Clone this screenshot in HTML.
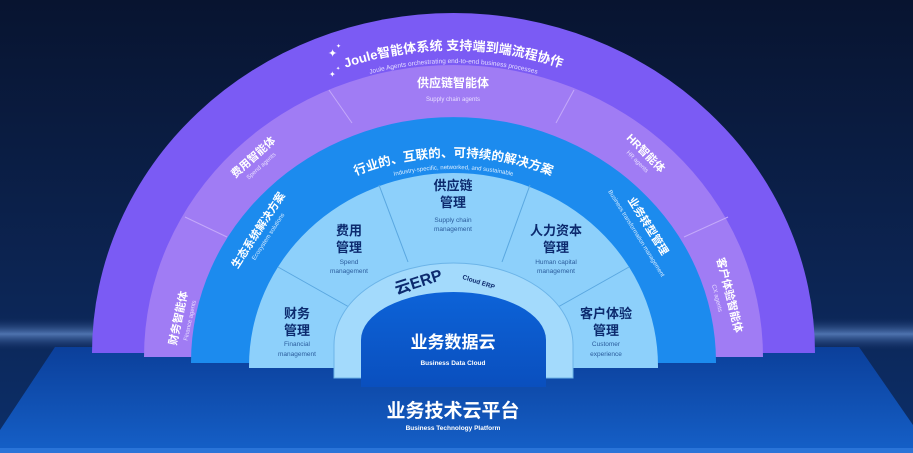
<!DOCTYPE html>
<html><head><meta charset="utf-8">
<style>
html,body{margin:0;padding:0;background:#0a1734;}
svg{display:block;}
text{font-family:"Liberation Sans","Noto Sans CJK SC",sans-serif;}
</style></head>
<body>
<svg width="913" height="453" viewBox="0 0 913 453" xmlns="http://www.w3.org/2000/svg">
<defs>
<linearGradient id="bg" x1="0" y1="0" x2="0" y2="1">
<stop offset="0" stop-color="#081430"/><stop offset="0.6" stop-color="#0c2452"/><stop offset="1" stop-color="#0c2f6a"/>
</linearGradient>
<linearGradient id="streak" x1="0" y1="0" x2="0" y2="1">
<stop offset="0" stop-color="#1c3a72" stop-opacity="0"/><stop offset="0.5" stop-color="#5f86c4" stop-opacity="0.8"/><stop offset="1" stop-color="#1c3a72" stop-opacity="0"/>
</linearGradient>
<linearGradient id="plat" x1="0" y1="0" x2="0" y2="1">
<stop offset="0" stop-color="#0b3f9a"/><stop offset="1" stop-color="#1560c8"/>
</linearGradient>
<linearGradient id="data" x1="0" y1="0" x2="0" y2="1">
<stop offset="0" stop-color="#0d63d8"/><stop offset="1" stop-color="#0a4fbe"/>
</linearGradient>
<path id="pJ" d="M133.5,353 A320 303 0 0 1 773.5,353"/>
<path id="pJs" d="M145.5,353 A308 290 0 0 1 761.5,353"/>
<path id="pI" d="M218.5,362 A235 205 0 0 1 688.5,362"/>
<path id="pIs" d="M228.5,362 A225 193 0 0 1 678.5,362"/>
</defs>
<rect width="913" height="453" fill="url(#bg)"/>
<rect x="0" y="318" width="913" height="32" fill="url(#streak)"/>
<path d="M55,347 L859,347 L913,425 L913,453 L0,453 L0,430 Z" fill="url(#plat)"/>
<rect x="0" y="448" width="913" height="5" fill="#2a74d8"/>
<path d="M92,353 A361.5 340 0 0 1 815,353 Z" fill="#7b5bf4"/>
<path d="M144,357 A309.5 292 0 0 1 763,357 Z" fill="#a07cf4"/>
<g stroke="#c4a9fa" stroke-width="1">
<line x1="185" y1="217" x2="227" y2="237"/>
<line x1="329" y1="90" x2="352" y2="123"/>
<line x1="574" y1="90" x2="556" y2="123"/>
<line x1="728" y1="217" x2="684" y2="237"/>
</g>
<path d="M191,363 L191,362 A262.5 245 0 0 1 716,362 L716,363 Z" fill="#1c8bee"/>
<path d="M249,368 L249,366 A204.5 193 0 0 1 658,366 L658,368 Z" fill="#8dd0fb"/>
<g stroke="#5aa7e0" stroke-width="1">
<line x1="379" y1="185" x2="408" y2="262"/>
<line x1="530" y1="185" x2="502" y2="262"/>
<line x1="278" y1="267" x2="349" y2="307"/>
<line x1="629" y1="267" x2="558" y2="307"/>
</g>
<path d="M334,378 L334,345 A119.5 82 0 0 1 573,345 L573,378 Z" fill="#a3dafc" stroke="#6cb4e8" stroke-width="1"/>
<path d="M361,387 L361,340 A92.5 48 0 0 1 546,340 L546,387 Z" fill="url(#data)"/>

<text font-size="13" font-weight="bold" fill="#fff" text-anchor="middle"><textPath href="#pJ" startOffset="50%">Joule智能体系统 支持端到端流程协作</textPath></text>
<text font-size="6.5" fill="#e4dcff" text-anchor="middle"><textPath href="#pJs" startOffset="50%">Joule Agents orchestrating end-to-end business processes</textPath></text>
<text x="328" y="57" font-size="11" fill="#fff">✦</text>
<text x="336" y="48" font-size="6" fill="#fff">✦</text>
<text x="329" y="77" font-size="8" fill="#fff">✦</text>
<text x="336" y="70" font-size="5" fill="#fff">✦</text>

<g fill="#fff" text-anchor="middle">
<text x="453" y="87" font-size="12" font-weight="bold">供应链智能体</text>
<text x="453" y="101" font-size="6" fill="#e8deff">Supply chain agents</text>
<g transform="translate(253,157) rotate(-42)"><text y="4" font-size="11" font-weight="bold">费用智能体</text><text y="14" font-size="6" fill="#e8deff">Spend agents</text></g>
<g transform="translate(646,153) rotate(45)"><text y="4" font-size="11" font-weight="bold">HR智能体</text><text y="14" font-size="6" fill="#e8deff">HR agents</text></g>
<g transform="translate(178,318) rotate(-78)"><text y="4" font-size="11" font-weight="bold">财务智能体</text><text y="14" font-size="6" fill="#e8deff">Finance agents</text></g>
<g transform="translate(726,296) rotate(76)"><text y="0" font-size="11" font-weight="bold">客户体验智能体</text><text y="11" font-size="6" fill="#e8deff">CX agents</text></g>
</g>

<text font-size="12.5" font-weight="bold" fill="#fff" text-anchor="middle"><textPath href="#pI" startOffset="50%">行业的、互联的、可持续的解决方案</textPath></text>
<text font-size="6" fill="#d8ecff" text-anchor="middle"><textPath href="#pIs" startOffset="50%">Industry-specific, networked, and sustainable</textPath></text>
<g fill="#fff" text-anchor="middle">
<g transform="translate(258,230) rotate(-57)"><text y="4" font-size="11" font-weight="bold">生态系统解决方案</text><text y="14" font-size="6" fill="#d8ecff">Ecosystem solutions</text></g>
<g transform="translate(645,228) rotate(58)"><text y="0" font-size="11" font-weight="bold">业务转型管理</text><text y="12" font-size="6" fill="#d8ecff">Business transformation management</text></g>
</g>

<g text-anchor="middle" fill="#0c2a6e">
<text x="453" y="190" font-size="13" font-weight="bold">供应链</text>
<text x="453" y="207" font-size="13" font-weight="bold">管理</text>
<text x="453" y="222" font-size="6.5" fill="#2b5c9c">Supply chain</text>
<text x="453" y="231" font-size="6.5" fill="#2b5c9c">management</text>
<text x="349" y="235" font-size="13" font-weight="bold">费用</text>
<text x="349" y="252" font-size="13" font-weight="bold">管理</text>
<text x="349" y="264" font-size="6.5" fill="#2b5c9c">Spend</text>
<text x="349" y="273" font-size="6.5" fill="#2b5c9c">management</text>
<text x="556" y="235" font-size="13" font-weight="bold">人力资本</text>
<text x="556" y="252" font-size="13" font-weight="bold">管理</text>
<text x="556" y="264" font-size="6.5" fill="#2b5c9c">Human capital</text>
<text x="556" y="273" font-size="6.5" fill="#2b5c9c">management</text>
<text x="297" y="318" font-size="13" font-weight="bold">财务</text>
<text x="297" y="335" font-size="13" font-weight="bold">管理</text>
<text x="297" y="346" font-size="6.5" fill="#2b5c9c">Financial</text>
<text x="297" y="356" font-size="6.5" fill="#2b5c9c">management</text>
<text x="606" y="318" font-size="13" font-weight="bold">客户体验</text>
<text x="606" y="335" font-size="13" font-weight="bold">管理</text>
<text x="606" y="346" font-size="6.5" fill="#2b5c9c">Customer</text>
<text x="606" y="356" font-size="6.5" fill="#2b5c9c">experience</text>
<text x="0" y="0" font-size="16" font-weight="bold" transform="translate(420,287) rotate(-18)">云ERP</text>
<text x="0" y="0" font-size="6.5" font-weight="bold" transform="translate(478,284) rotate(18)">Cloud ERP</text>
</g>

<g text-anchor="middle" fill="#fff">
<text x="453" y="348" font-size="17" font-weight="bold">业务数据云</text>
<text x="453" y="365" font-size="6.5" font-weight="bold">Business Data Cloud</text>
<text x="453" y="417" font-size="19" font-weight="bold">业务技术云平台</text>
<text x="453" y="430" font-size="6.5" font-weight="bold">Business Technology Platform</text>
</g>
</svg>
</body></html>
